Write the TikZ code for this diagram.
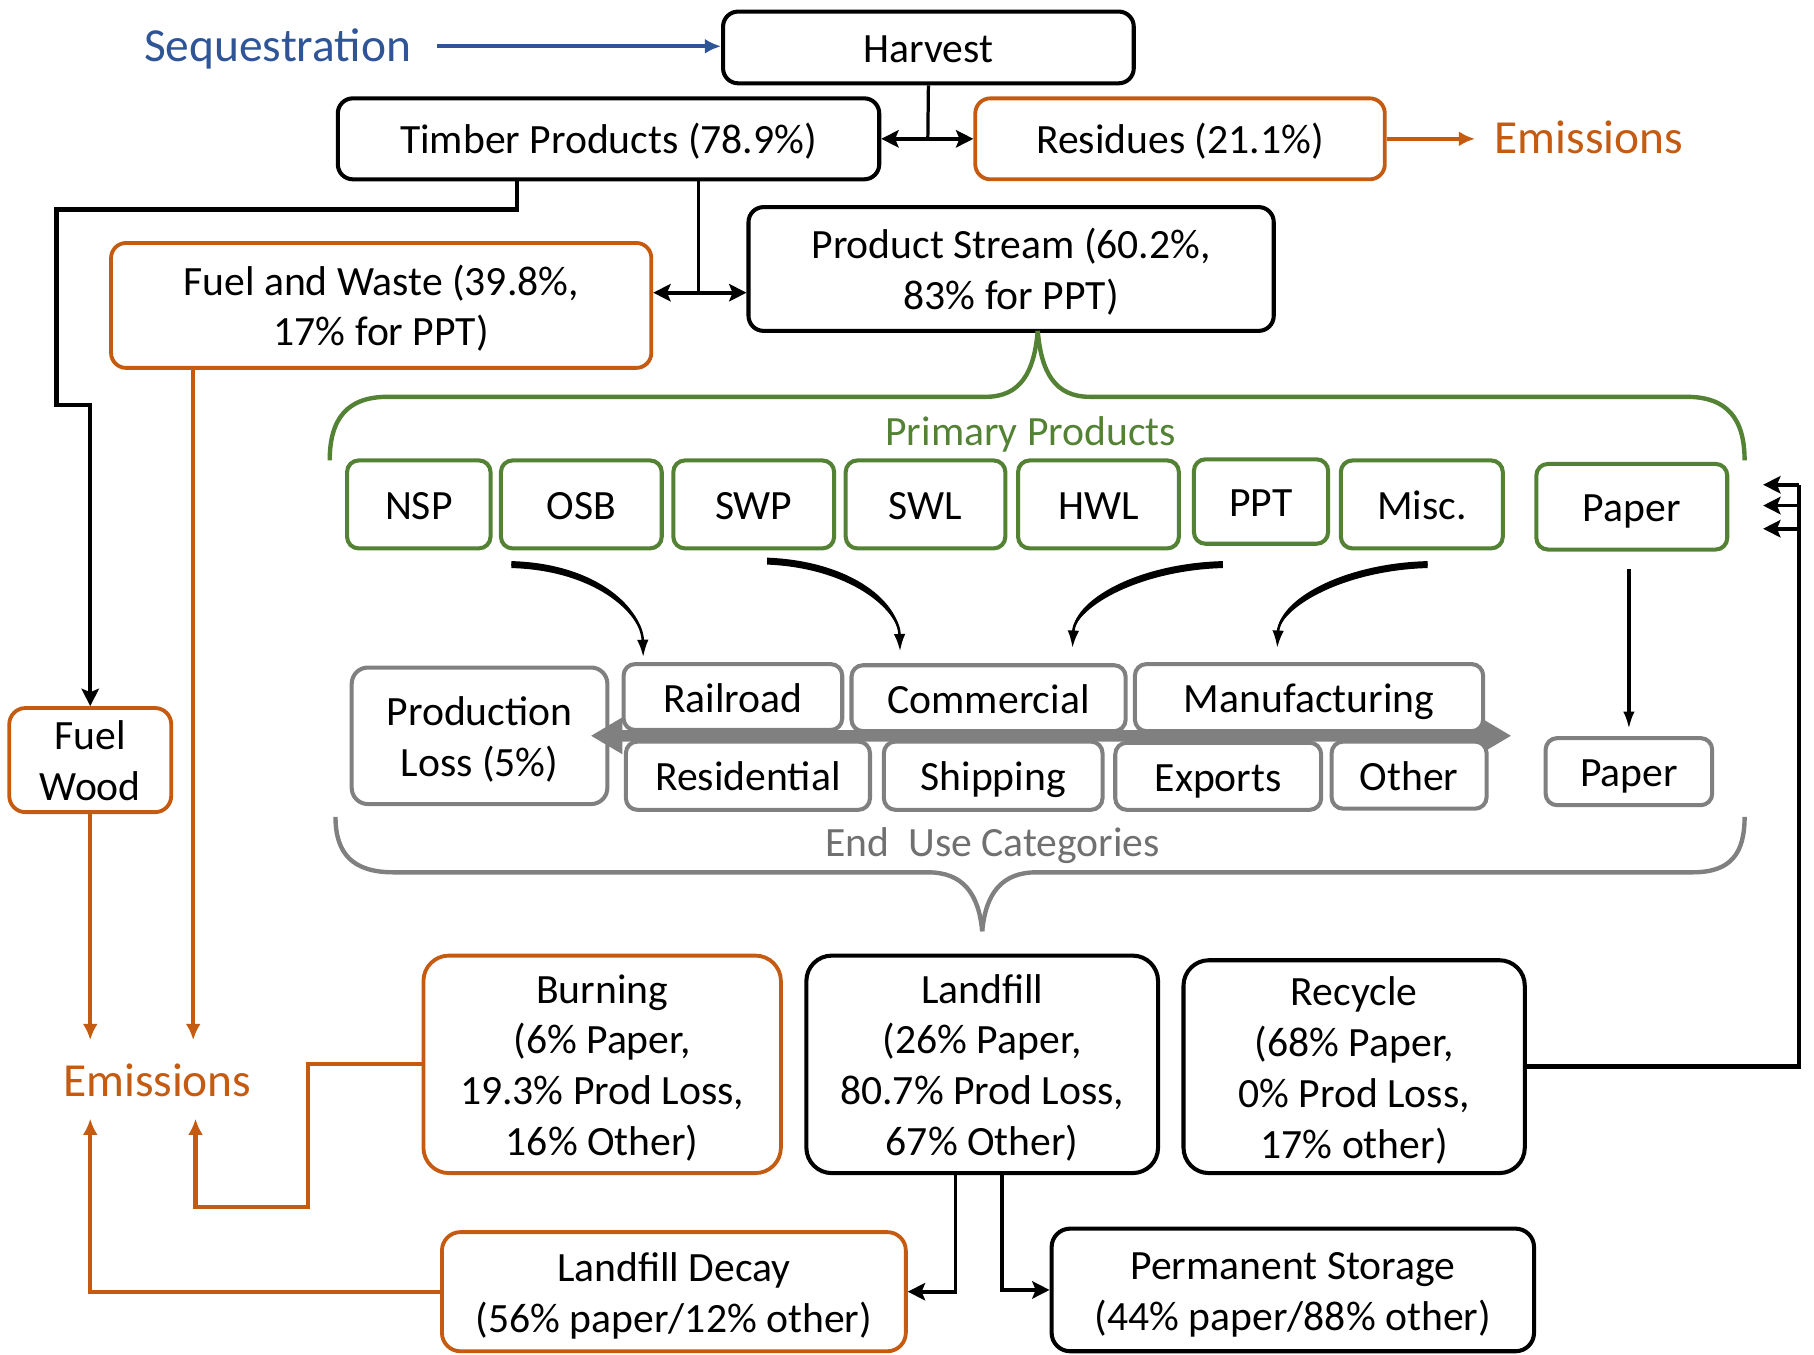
\documentclass[tikz,border=0pt]{standalone}
\usepackage{fontspec}
\setmainfont{Carlito}
\usetikzlibrary{arrows.meta,calc}
\definecolor{cblue}{RGB}{47,85,151}
\definecolor{corange}{RGB}{197,90,17}
\definecolor{cgreen}{RGB}{84,130,53}
\definecolor{cgray}{RGB}{128,128,128}
\definecolor{ctext}{RGB}{112,112,112}
\newcommand\zstrut{\rule[-9pt]{0pt}{44pt}}
\begin{document}
\begin{tikzpicture}[x=1pt,y=-1pt,
 every node/.style={font=\fontsize{36}{44}\selectfont, align=center, inner sep=0pt},
 boxbase/.style={fill=white, execute at begin node=\zstrut, execute at end node=\zstrut},
 bbox/.style={boxbase, draw=black, line width=3.5pt, rounded corners=13pt},
 obox/.style={boxbase, draw=corange, line width=3.3pt, rounded corners=13pt},
 gbox/.style={boxbase, draw=cgreen, line width=3.5pt, rounded corners=10pt},
 ybox/.style={boxbase, draw=cgray, line width=3.5pt, rounded corners=10pt},
 big/.style={font=\fontsize{41}{48}\selectfont},
 conn/.style={draw=black, line width=3.8pt},
 thin/.style={draw=black, line width=2.8pt},
 ocon/.style={draw=corange, line width=3.5pt},
 btip/.style={-{Stealth[length=15pt,width=15pt,inset=3pt]}},
 bbtip/.style={{Stealth[length=15pt,width=15pt,inset=3pt]}-{Stealth[length=15pt,width=15pt,inset=3pt]}},
 otip/.style={-{Latex[length=14pt,width=13pt]}},
 ctip/.style={-{Latex[length=15pt,width=10pt]}},
]
\useasboundingbox (0,0) rectangle (1568,1171);

% ---------- top ----------
\node[bbox, minimum width=355pt, minimum height=62pt] (harvest) at (802.5,41) {Harvest};
\node[bbox, minimum width=468pt, minimum height=70pt] (timber) at (526,120) {Timber Products (78.9\%)};
\node[obox, minimum width=354pt, minimum height=70pt] (resid) at (1020,120) {Residues (21.1\%)};
\node[bbox, minimum width=454pt, minimum height=107pt] (pstream) at (874,232.5) {\zstrut Product Stream (60.2\%,\\83\% for PPT)};
\node[obox, minimum width=467pt, minimum height=108pt] (fwaste) at (329.5,264) {\zstrut Fuel and Waste (39.8\%,\\17\% for PPT)};

\node[big, text=cblue, anchor=base] (seq) at (240,53) {Sequestration};
\node[big, text=corange, anchor=base] (emisR) at (1373.5,133) {Emissions};
\node[big, text=corange, anchor=base] (emisL) at (136,948) {Emissions};

\coordinate (seqA) at (378,40);
\draw[draw=cblue, line width=3.5pt, -{Latex[length=14pt,width=13pt]}] (seqA) -- (seqA -| harvest.west);
\coordinate (emR) at (1275,120);
\draw[ocon, otip] (resid.east) -- (emR);

\coordinate (hj) at (802,120);
\draw[thin] (harvest.south) -- (hj);
\draw[conn, bbtip] (timber.east) -- (resid.west);

\coordinate (tj) at (604,253);
\draw[thin] (timber.south -| tj) -- (tj);
\draw[conn, bbtip] (fwaste.east |- tj) -- (pstream.west |- tj);

% ---------- fuel wood ----------
\node[obox, minimum width=140pt, minimum height=90pt, rounded corners=14pt] (fwood) at (78,657) {\zstrut Fuel\\Wood};
\coordinate (c447) at (447,181);
\draw[conn, btip] (timber.south -| c447) -- (c447) -| (49,350) -| (fwood.north);

\coordinate (eTop) at (0,899);
\coordinate (c167) at (167,0);
\draw[ocon, otip] (fwood.south) -- (fwood.south |- eTop);
\draw[ocon, otip] (fwaste.south -| c167) -- (c167 |- eTop);

% ---------- primary products brace ----------
\draw[cgreen, line width=3.8pt] (285,398) .. controls (285,362) and (300,343) .. (335,343) -- (852,343) .. controls (882,343) and (894,322) .. (897,286);
\draw[cgreen, line width=3.8pt] (897,286) .. controls (900,322) and (912,343) .. (942,343) -- (1458,343) .. controls (1493,343) and (1508,362) .. (1508,398);
\node[text=cgreen, anchor=base] (pp) at (891,385) {Primary Products};

\node[gbox, minimum width=124pt, minimum height=76pt] (nsp) at (362,436) {NSP};
\node[gbox, minimum width=139pt, minimum height=76pt] (osb) at (502.5,436) {OSB};
\node[gbox, minimum width=139pt, minimum height=76pt] (swp) at (651.5,436) {SWP};
\node[gbox, minimum width=138pt, minimum height=76pt] (swl) at (800,436) {SWL};
\node[gbox, minimum width=139pt, minimum height=76pt] (hwl) at (949.5,436) {HWL};
\node[gbox, minimum width=116pt, minimum height=73pt] (ppt) at (1090,433.5) {PPT};
\node[gbox, minimum width=140pt, minimum height=76pt] (misc) at (1229,436) {Misc.};
\node[gbox, minimum width=165pt, minimum height=74pt] (paperA) at (1410.5,438) {Paper};

% ---------- end use ----------
\node[ybox, minimum width=221pt, minimum height=118pt, rounded corners=14pt] (ploss) at (414.5,636) {\zstrut Production\\Loss (5\%)};
\fill[cgray] (511,636) -- (538,620) -- (538,631) -- (1279,631) -- (1279,620) -- (1306,636) -- (1279,652) -- (1279,641) -- (538,641) -- (538,652) -- cycle;
\node[ybox, minimum width=189pt, minimum height=57pt] (rail) at (633.5,602.5) {Railroad};
\node[ybox, minimum width=237pt, minimum height=57pt] (comm) at (854.5,603.5) {Commercial};
\node[ybox, minimum width=301pt, minimum height=58pt] (manu) at (1131.5,603) {Manufacturing};
\node[ybox, minimum width=211pt, minimum height=59pt] (resi) at (646.5,670.5) {Residential};
\node[ybox, minimum width=189pt, minimum height=59pt] (ship) at (858.5,670.5) {Shipping};
\node[ybox, minimum width=178pt, minimum height=58pt] (expo) at (1053,671) {Exports};
\node[ybox, minimum width=134pt, minimum height=58pt] (other) at (1218,670) {Other};
\node[ybox, minimum width=144pt, minimum height=58pt] (paperB) at (1408,667) {Paper};

\coordinate (pa) at (1408,492);
\coordinate (pb) at (1408,630);
\draw[thin, ctip] (pa) -- (pb);

% curved arrows (tapered)
\coordinate (a1s) at (442,488); \coordinate (a1e) at (556,568);
\coordinate (a2s) at (663,485); \coordinate (a2e) at (778,563);
\coordinate (a3s) at (1057,488); \coordinate (a3e) at (927,560);
\coordinate (a4s) at (1234,488); \coordinate (a4e) at (1104,560);
\fill ($(a1s)+(0,-3)$) .. controls (517,487) and (557,527) .. ($(a1e)+(0,-12)$) .. controls (554,529) and (513,493) .. ($(a1s)+(0,3)$) -- cycle;
\fill ($(a2s)+(0,-3)$) .. controls (738,485) and (779,522) .. ($(a2e)+(0,-12)$) .. controls (776,526) and (734,491) .. ($(a2s)+(0,3)$) -- cycle;
\fill ($(a3s)+(0,-3)$) .. controls (983,487) and (926,519) .. ($(a3e)+(0,-12)$) .. controls (931,523) and (987,493) .. ($(a3s)+(0,3)$) -- cycle;
\fill ($(a4s)+(0,-3)$) .. controls (1160,487) and (1103,519) .. ($(a4e)+(0,-12)$) .. controls (1108,523) and (1164,493) .. ($(a4s)+(0,3)$) -- cycle;
\draw[black, line width=2.2pt, ctip] (a1s) .. controls (515,490) and (555,528) .. (a1e);
\draw[black, line width=2.2pt, ctip] (a2s) .. controls (736,488) and (777,525) .. (a2e);
\draw[black, line width=2.2pt, ctip] (a3s) .. controls (985,490) and (929,522) .. (a3e);
\draw[black, line width=2.2pt, ctip] (a4s) .. controls (1162,490) and (1106,522) .. (a4e);

% end use brace
\draw[cgray, line width=3.8pt] (290,706) .. controls (290,738) and (305,754) .. (340,754) -- (802,754) .. controls (832,754) and (846,772) .. (849,805);
\draw[cgray, line width=3.8pt] (849,805) .. controls (852,772) and (866,754) .. (896,754) -- (1463,754) .. controls (1496,754) and (1508,738) .. (1508,706);
\node[text=ctext, anchor=base] (euc) at (858,740) {End\ \ Use Categories};

% ---------- bottom ----------
\node[obox, minimum width=309pt, minimum height=188pt, rounded corners=22pt] (burn) at (520.5,920) {\zstrut Burning\\(6\% Paper,\\19.3\% Prod Loss,\\16\% Other)};
\node[bbox, minimum width=304pt, minimum height=188pt, rounded corners=22pt] (landf) at (849,920) {\zstrut Landfill\\(26\% Paper,\\80.7\% Prod Loss,\\67\% Other)};
\node[bbox, minimum width=295pt, minimum height=184pt, rounded corners=22pt] (recyc) at (1170.5,922) {\zstrut Recycle\\(68\% Paper,\\0\% Prod Loss,\\17\% other)};
\node[obox, minimum width=401pt, minimum height=103pt, rounded corners=16pt] (ldecay) at (582.5,1116.5) {\zstrut Landfill Decay\\(56\% paper/12\% other)};
\node[bbox, minimum width=417pt, minimum height=106pt, rounded corners=16pt] (perm) at (1117.5,1115) {\zstrut Permanent Storage\\(44\% paper/88\% other)};

\coordinate (c826) at (826,0);
\coordinate (c866) at (866,0);
\draw[conn, line width=3.2pt, btip] (landf.south -| c826) |- (ldecay.east);
\draw[conn, line width=3.2pt, btip] (landf.south -| c866) |- (perm.west);

\coordinate (r1) at (1555,419);
\coordinate (r2) at (1555,437);
\coordinate (r3) at (1555,457);
\draw[conn] (recyc.east) -| (r1);
\draw[conn, line width=3.2pt, btip] (r1) -- ++(-31,0);
\draw[conn, line width=3.2pt, btip] (r2) -- ++(-31,0);
\draw[conn, line width=3.2pt, btip] (r3) -- ++(-31,0);

\coordinate (c266) at (266,1043);
\coordinate (c169) at (169,967);
\coordinate (c78) at (78,967);
\draw[ocon, otip] (burn.west) -| (c266) -| (c169);
\draw[ocon, otip] (ldecay.west) -| (c78);
\end{tikzpicture}
\end{document}
